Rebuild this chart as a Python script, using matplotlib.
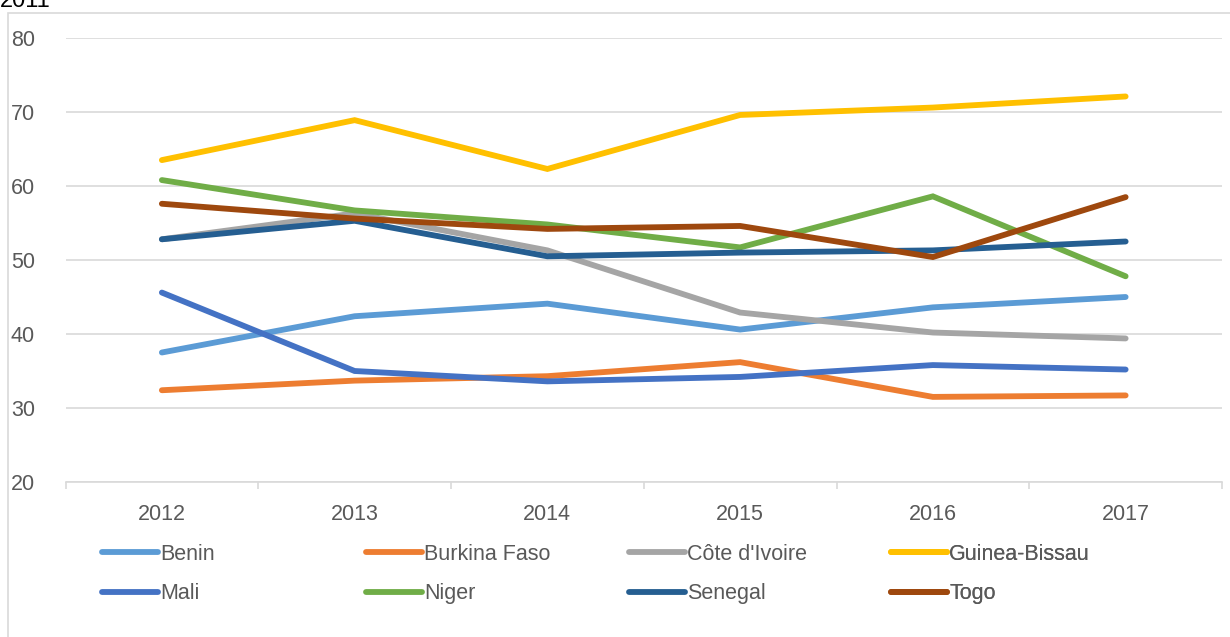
import matplotlib.pyplot as plt
from matplotlib.patches import Rectangle
import numpy as np

# Data
years = ['2012', '2013', '2014', '2015', '2016', '2017']
benin = [37.5, 42.4, 44.1, 40.6, 43.6, 45.0]
burkina_faso = [32.4, 33.7, 34.3, 36.2, 31.5, 31.7]
cote_divoire = [52.8, 56.3, 51.3, 42.9, 40.2, 39.4]
guinea_bissau = [63.5, 68.9, 62.3, 69.6, 70.6, 72.1]
mali = [45.6, 35.0, 33.6, 34.2, 35.8, 35.2]
niger = [60.8, 56.7, 54.8, 51.7, 58.6, 47.8]
senegal = [52.8, 55.3, 50.5, 51.0, 51.3, 52.5]
togo = [57.6, 55.6, 54.2, 54.6, 50.4, 58.5]

names = ['Benin', 'Burkina Faso', "Côte d'Ivoire", 'Guinea-Bissau',
         'Mali', 'Niger', 'Senegal', 'Togo']
series = [benin, burkina_faso, cote_divoire, guinea_bissau,
          mali, niger, senegal, togo]
colors = ['#5B9BD5', '#ED7D31', '#A5A5A5', '#FFC000',
          '#4472C4', '#70AD47', '#255E91', '#9E480E']

plt.rcParams['font.family'] = ['Liberation Sans', 'DejaVu Sans']

W, H = 1230, 637
fig = plt.figure(figsize=(W / 100, H / 100), dpi=100)

# Chart frame (clipped at right/bottom like the reference)
fig.patches.append(Rectangle((8 / W, -0.05), 1.1, 1 - 13 / H + 0.05,
                             transform=fig.transFigure, fill=False,
                             edgecolor='#d9d9d9', linewidth=1.2))
# Cut-off title fragment at the very top
fig.text(0.0, 1 - 7 / H, '2011', fontsize=17, color='#000000',
         ha='left', va='baseline')

ax = fig.add_axes([65.5 / W, 1 - 482 / H, (1222 - 65.5) / W, (482 - 38) / H])

x = np.arange(len(years))
lines = []
for vals, name, c in zip(series, names, colors):
    ln, = ax.plot(x, vals, color=c, linewidth=4.2, label=name,
                  solid_capstyle='round', solid_joinstyle='miter')
    lines.append(ln)

ax.set_xlim(-0.5, len(years) - 0.5)
ax.set_ylim(20, 80)
ax.set_yticks(range(20, 81, 10))
ax.set_xticks(x)
ax.set_xticklabels(years)
ax.set_xticks(np.arange(-0.5, len(years), 1), minor=True)

ax.grid(axis='y', color='#d9d9d9', linewidth=1.2)
ax.set_axisbelow(True)
for s in ['top', 'right', 'left']:
    ax.spines[s].set_visible(False)
ax.spines['bottom'].set_color('#d9d9d9')
ax.spines['bottom'].set_linewidth(1.2)

ax.tick_params(axis='y', length=0, pad=22, labelsize=15.5, labelcolor='#595959')
ax.tick_params(axis='x', which='major', length=0, pad=16, labelsize=15.5,
               labelcolor='#595959')
ax.tick_params(axis='x', which='minor', length=5, width=1.2, color='#d9d9d9')

# Legend: four columns, two rows, placed like the reference
col_x = [102, 366, 629, 891]
for j in range(4):
    leg = ax.legend(handles=[lines[j], lines[j + 4]],
                    loc='upper left',
                    bbox_to_anchor=(col_x[j] / W, 1 - 544 / H),
                    bbox_transform=fig.transFigure,
                    frameon=False, fontsize=15.5, handlelength=2.6,
                    handletextpad=0.1, labelspacing=0.85,
                    borderaxespad=0, borderpad=0, labelcolor='#595959')
    ax.add_artist(leg)

fig.savefig('out.png', dpi=100)
